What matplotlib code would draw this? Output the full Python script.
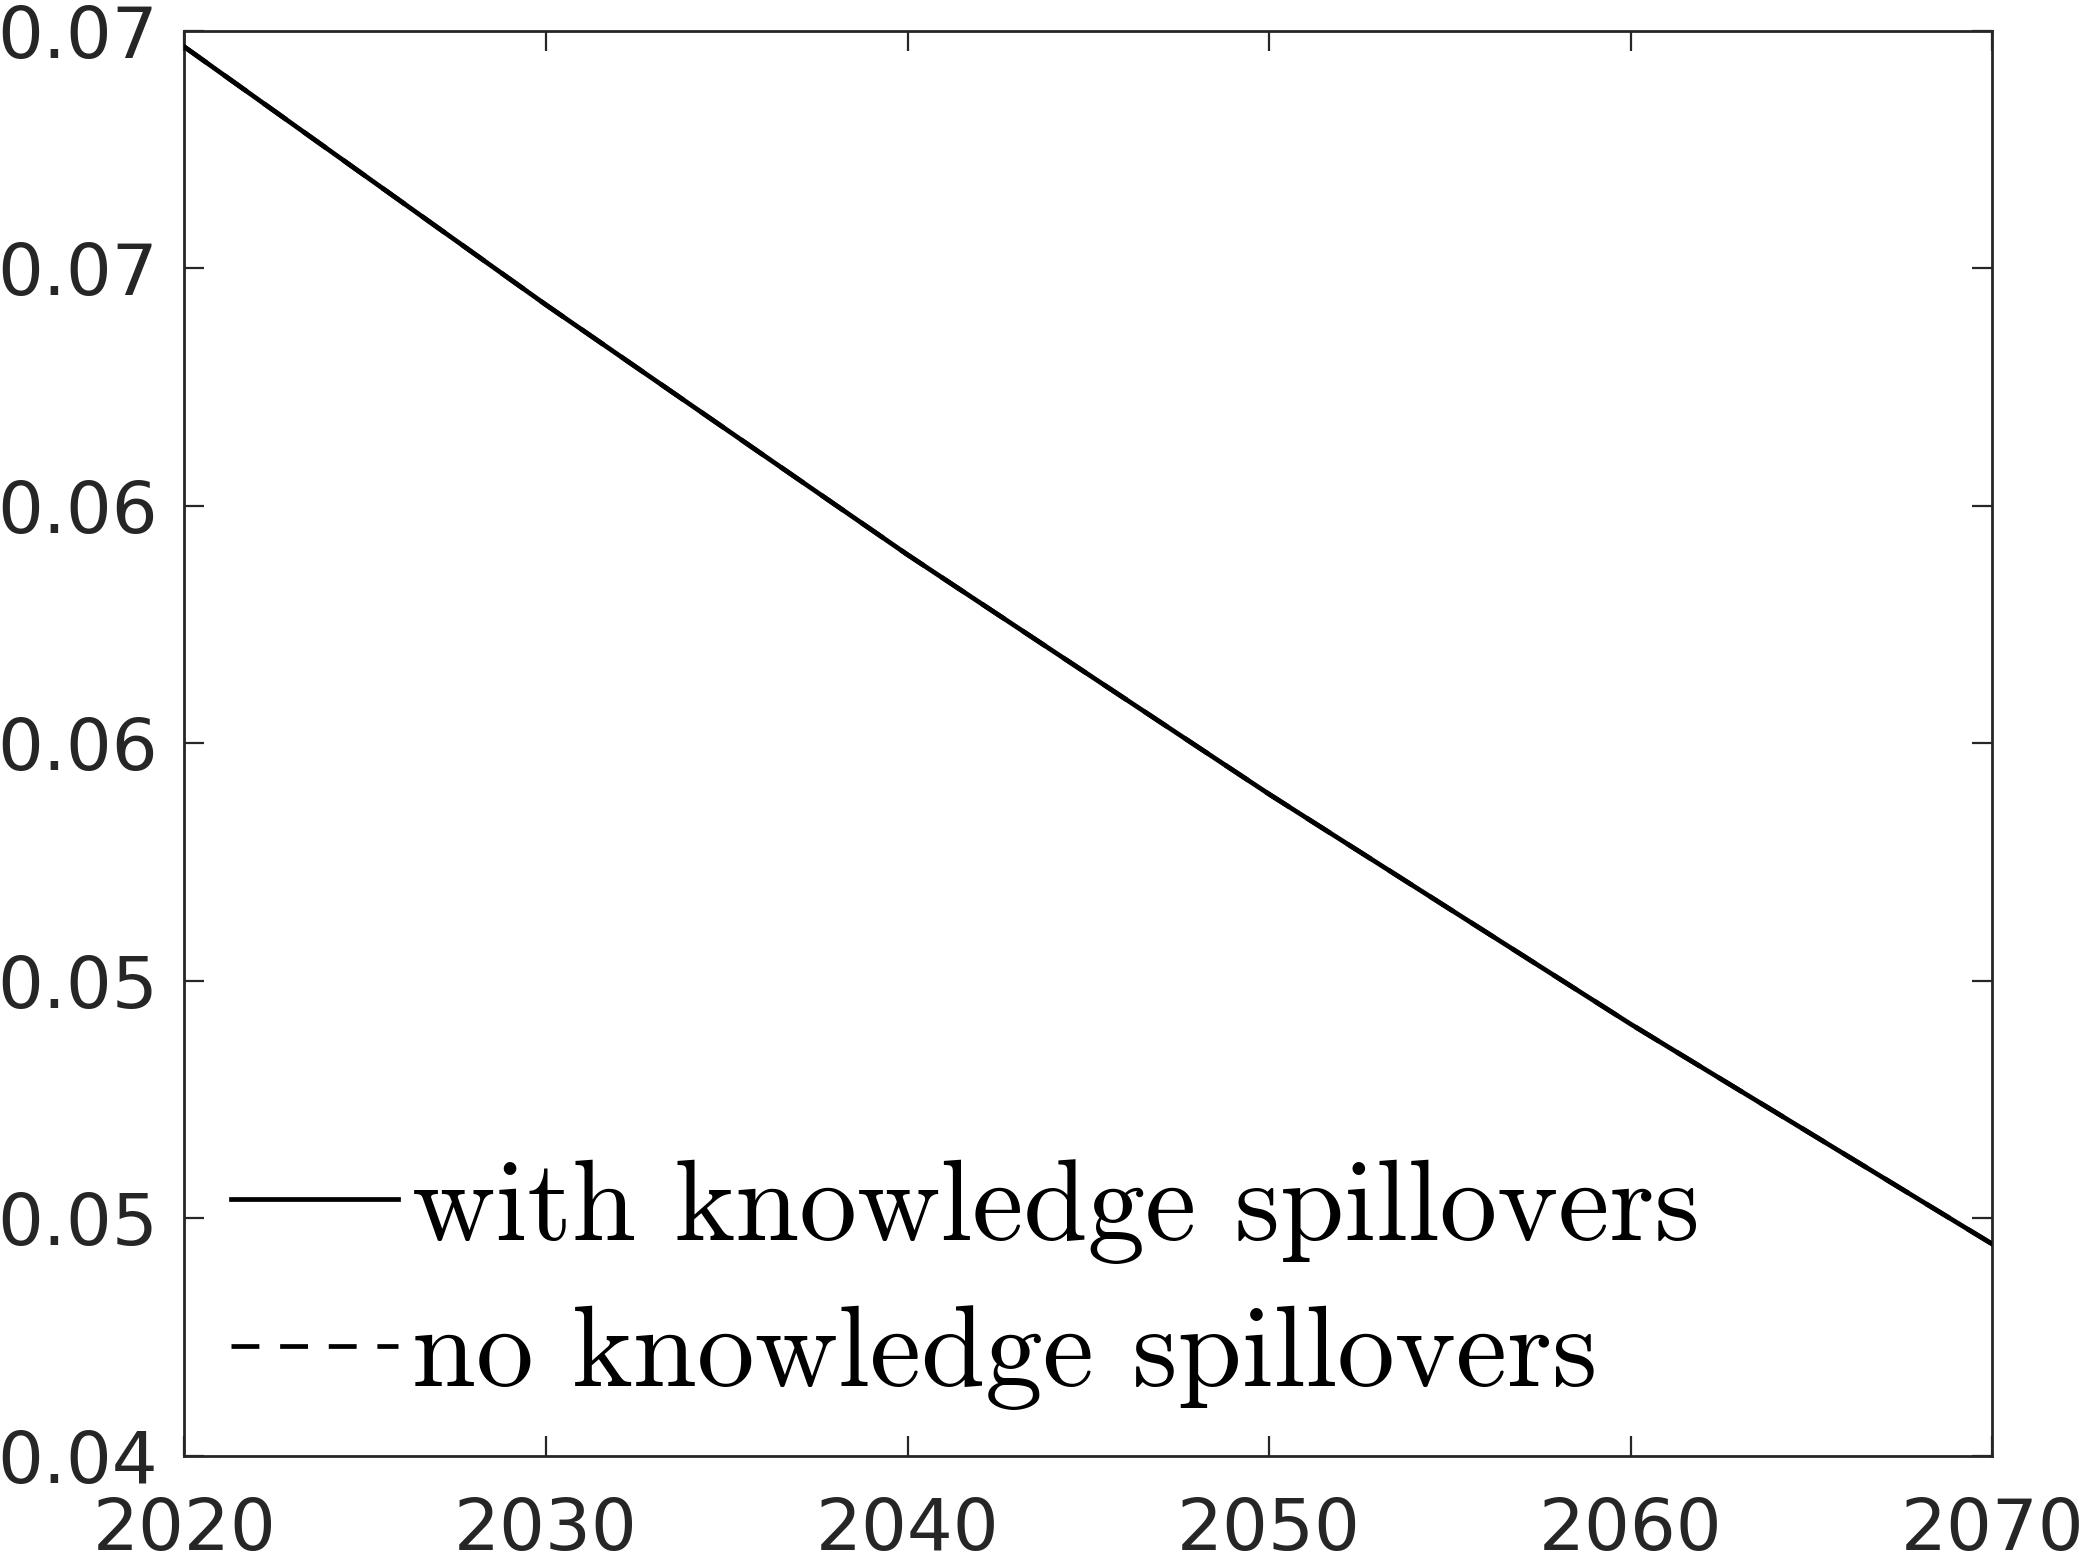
import matplotlib
matplotlib.use("Agg")
import matplotlib.pyplot as plt

# ---- data ----
years = [2020, 2030, 2040, 2050, 2060, 2070]
with_spill = [0.06966, 0.06423, 0.05897, 0.05393, 0.04909, 0.04446]
no_spill = [0.06966, 0.06423, 0.05897, 0.05393, 0.04909, 0.04446]
labels = ["with knowledge spillovers", "no knowledge spillovers"]

xticks = [2020, 2030, 2040, 2050, 2060, 2070]
xtick_labels = ["2020", "2030", "2040", "2050", "2060", "2070"]
yticks = [0.04, 0.045, 0.05, 0.055, 0.06, 0.065, 0.07]
ytick_labels = ["0.04", "0.05", "0.05", "0.06", "0.06", "0.07", "0.07"]

# ---- figure ----
fig = plt.figure(figsize=(20.82, 15.54), dpi=100)
ax = fig.add_axes([0.0886, 0.0631, 0.9569 - 0.0886, 0.9802 - 0.0631])

ax.plot(years, no_spill, color="black", lw=3.4, linestyle=(0, (5.9, 4.4)),
        label=labels[1], zorder=2)
ax.plot(years, with_spill, color="black", lw=3.4, linestyle="-",
        label=labels[0], zorder=3)

ax.set_xlim(2020, 2070)
ax.set_ylim(0.04, 0.07)
ax.set_xticks(xticks)
ax.set_xticklabels(xtick_labels)
ax.set_yticks(yticks)
ax.set_yticklabels(ytick_labels)

grey = "#262626"
for sp in ax.spines.values():
    sp.set_color(grey)
    sp.set_linewidth(2.0)
ax.tick_params(axis="both", direction="in", length=14.4, width=1.6,
               colors=grey, labelsize=52, top=True, right=True)
ax.tick_params(axis="y", pad=19)
ax.tick_params(axis="x", pad=29)

h, l = ax.get_legend_handles_labels()
order = [1, 0]
leg = ax.legend([h[i] for i in order], [l[i] for i in order],
                loc="lower left", bbox_to_anchor=(0.0066, 0.008),
                frameon=False, prop={"family": "cmr10", "size": 83},
                handlelength=1.45, handletextpad=0.12, labelspacing=0.36,
                borderaxespad=0.0, borderpad=0.3)

fig.savefig("out.png", dpi=100)
